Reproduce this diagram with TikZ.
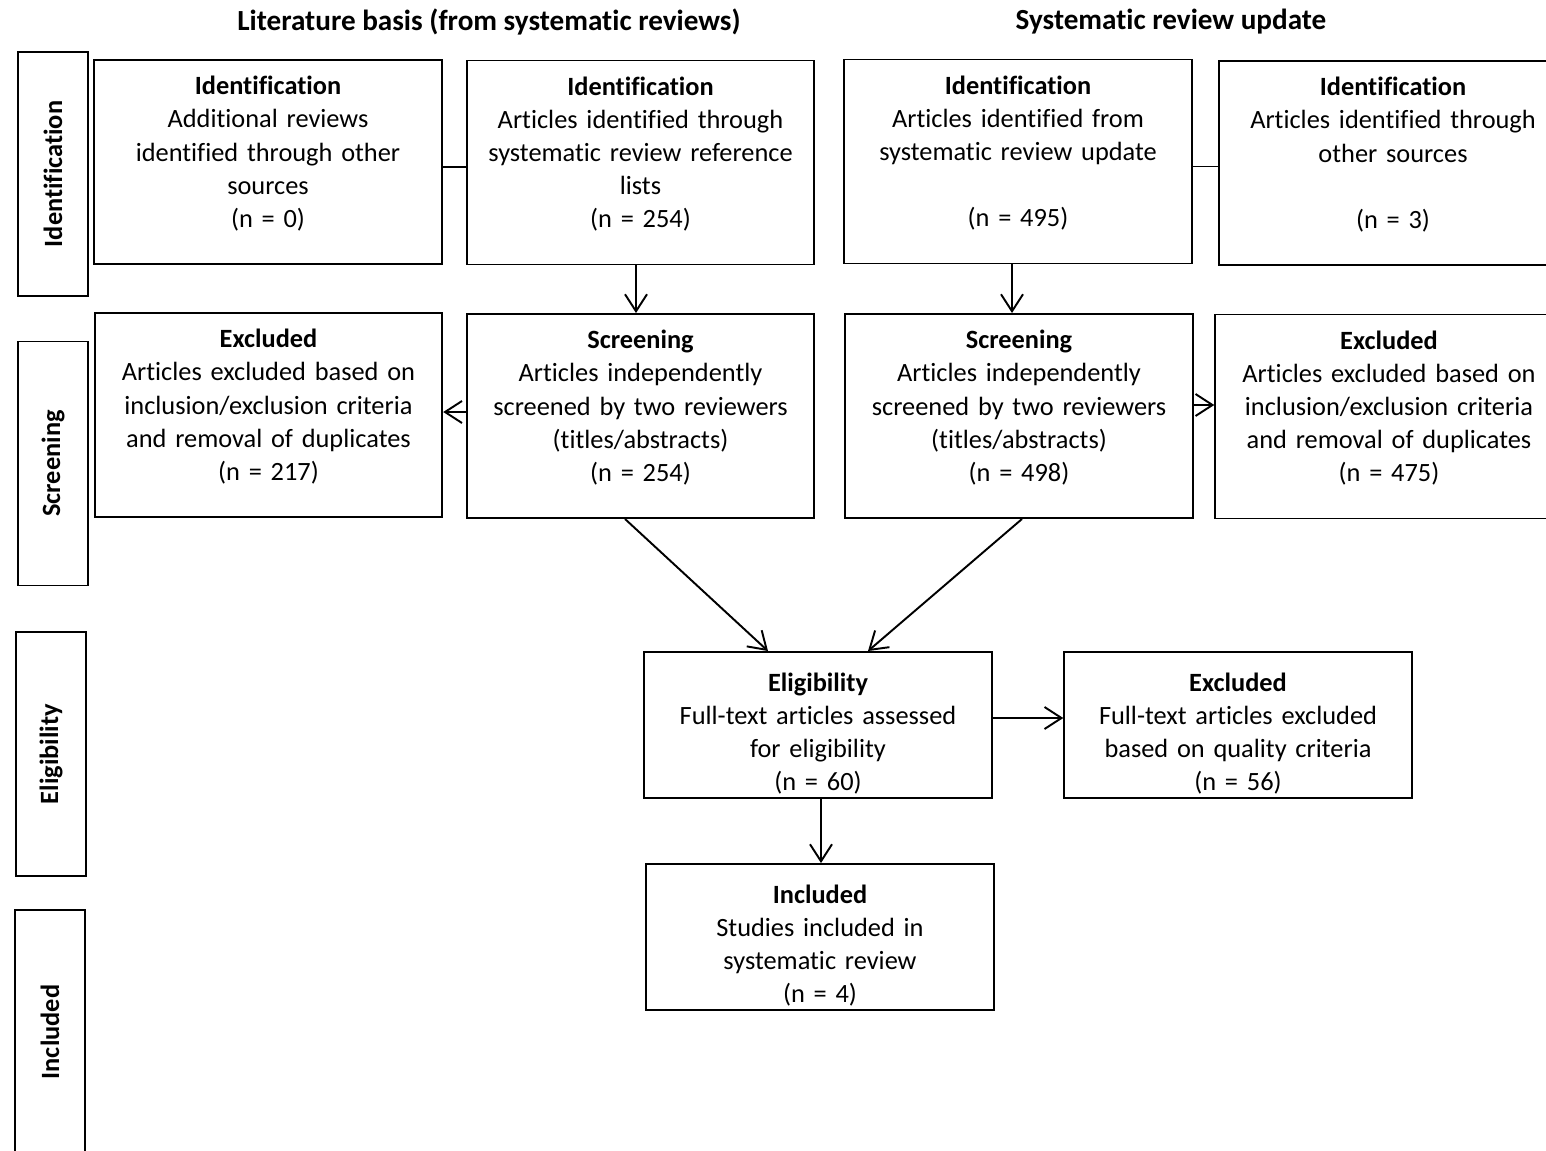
\documentclass[tikz,border=0pt]{standalone}
\usepackage{xcolor}
\usepackage{fontspec}
\setmainfont{Carlito}[Ligatures=NoCommon]
\usepackage{tikz}
\usetikzlibrary{arrows.meta}

\begin{document}
\begin{tikzpicture}[
    every node/.style={font=\fontsize{15pt}{18.8pt}\selectfont},
    frame/.style={draw, line width=1.1pt, minimum width=6.95cm,
      text width=6.7cm, align=center, inner sep=0pt},
    box/.style={frame, minimum height=4.08cm,
      execute at end node={\rule[-0.41cm]{0pt}{0.41cm}}},
    smallbox/.style={frame, minimum height=2.92cm,
      execute at begin node={\rule{0pt}{0.72cm}}},
    bar/.style={draw, line width=1.1pt, minimum width=1.4cm, minimum height=4.88cm, inner sep=0pt},
    phase/.style={rotate=90, font=\fontsize{15pt}{18.8pt}\selectfont\bfseries},
    head/.style={font=\fontsize{16.6pt}{20pt}\selectfont\bfseries},
    >={Straight Barb[length=3.4mm, width=4.4mm]}, line width=1.1pt]
  \useasboundingbox (0,0) rectangle (30.92,-23);

  % column headings
  \node[head] (h1) at (9.78, -0.44) {Literature basis (from systematic reviews)};
  \node[head] (h2) at (23.42, -0.44) {Systematic review update};

  % phase bars
  \node[bar] (p1) at (1.06, -3.48) {};
  \node[phase] at (p1) {Identification};
  \node[bar] (p2) at (1.06, -9.27) {};
  \node[phase] at (p2) {Screening};
  \node[bar] (p3) at (1.02, -15.08) {};
  \node[phase] at (p3) {Eligibility};
  \node[bar] (p4) at (1.0, -20.64) {};
  \node[phase] at (p4) {Included};

  % identification
  \node[box] (a) at (5.36, -3.24) {\textbf{Identification}\\ Additional reviews\\ identified through other\\ sources\\ (n = 0)};
  \node[box] (b) at (12.81, -3.25) {\textbf{Identification}\\ Articles identified through\\ systematic review reference\\ lists\\ (n = 254)};
  \node[box] (c) at (20.36, -3.23) {\textbf{Identification}\\ Articles identified from\\ systematic review update\\[18.8pt] (n = 495)};
  \node[box] (d) at (27.86, -3.26) {\textbf{Identification}\\ Articles identified through\\ other sources\\[18.8pt] (n = 3)};

  % screening
  \node[box] (e) at (5.37, -8.30) {\textbf{Excluded}\\ Articles excluded based on\\ inclusion/exclusion criteria\\ and removal of duplicates\\ (n = 217)};
  \node[box] (f) at (12.81, -8.32) {\textbf{Screening}\\ Articles independently\\ screened by two reviewers\\ (titles/abstracts)\\ (n = 254)};
  \node[box] (g) at (20.38, -8.32) {\textbf{Screening}\\ Articles independently\\ screened by two reviewers\\ (titles/abstracts)\\ (n = 498)};
  \node[box] (h) at (27.78, -8.33) {\textbf{Excluded}\\ Articles excluded based on\\ inclusion/exclusion criteria\\ and removal of duplicates\\ (n = 475)};

  % eligibility and included
  \node[smallbox] (i) at (16.36, -14.5) {\textbf{Eligibility}\\ Full-text articles assessed\\ for eligibility\\ (n = 60)};
  \node[smallbox] (j) at (24.76, -14.5) {\textbf{Excluded}\\ Full-text articles excluded\\ based on quality criteria\\ (n = 56)};
  \node[smallbox] (k) at (16.40, -18.74) {\textbf{Included}\\ Studies included in\\ systematic review\\ (n = 4)};

  % connectors
  \draw ([yshift=-0.1cm]a.east) -- ([yshift=-0.1cm]a.east -| b.west);
  \draw ([yshift=-0.1cm]c.east) -- ([yshift=-0.1cm]c.east -| d.west);
  \draw[->] ([xshift=-0.09cm]b.south) -- ([xshift=-0.09cm]b.south |- f.north);
  \draw[->] ([xshift=-0.12cm]c.south) -- ([xshift=-0.12cm]c.south |- g.north);
  \draw[->] ([yshift=0.08cm]f.west) -- ([yshift=0.08cm]f.west -| e.east);
  \draw[->] ([yshift=0.22cm]g.east) -- ([yshift=0.22cm]g.east -| h.west);
  \draw[->] ([xshift=-0.31cm]f.south) -- ([xshift=-1.0cm]i.north);
  \draw[->] ([xshift=0.06cm]g.south) -- ([xshift=1.0cm]i.north);
  \draw[->] ([yshift=0.14cm]i.east) -- ([yshift=0.14cm]i.east -| j.west);
  \draw[->] ([xshift=0.06cm]i.south) -- ([xshift=0.06cm]i.south |- k.north);
\end{tikzpicture}
\end{document}
